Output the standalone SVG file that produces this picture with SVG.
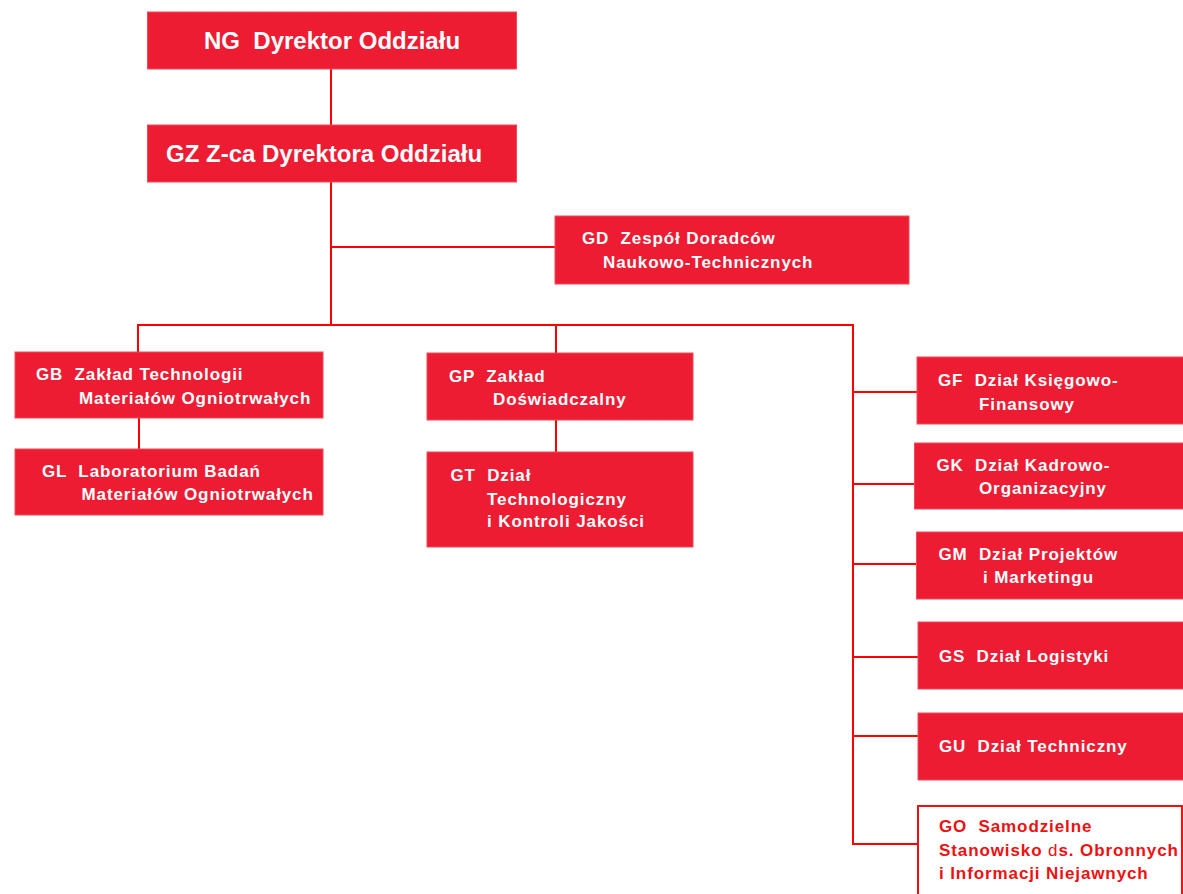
<svg xmlns="http://www.w3.org/2000/svg" width="1183" height="894" viewBox="0 0 1183 894">
<style>
.box{fill:#ED1C33;stroke:#F04A5A;stroke-width:1}
.obox{fill:#FFFFFF;stroke:#EE1111;stroke-width:2}
.t{font-family:"Liberation Sans",Arial,sans-serif;font-weight:bold;font-size:17px;letter-spacing:0.9px;fill:#FFFFFF;white-space:pre}
.big{font-size:24px;letter-spacing:0}
.r{fill:#EE1111}
.conn line{stroke:#FF0000;stroke-width:2}
</style>
<rect width="1183" height="894" fill="#FFFFFF"/>
<g class="conn">
<line x1="331" y1="69" x2="331" y2="125"/>
<line x1="331" y1="182" x2="331" y2="326"/>
<line x1="331" y1="247" x2="555" y2="247"/>
<line x1="137" y1="325" x2="854" y2="325"/>
<line x1="138" y1="325" x2="138" y2="352"/>
<line x1="556" y1="325" x2="556" y2="353"/>
<line x1="853" y1="325" x2="853" y2="845"/>
<line x1="139" y1="418" x2="139" y2="449"/>
<line x1="556" y1="420" x2="556" y2="452"/>
<line x1="853" y1="392" x2="917" y2="392"/>
<line x1="853" y1="484" x2="915" y2="484"/>
<line x1="853" y1="564" x2="917" y2="564"/>
<line x1="853" y1="657" x2="918" y2="657"/>
<line x1="853" y1="736" x2="918" y2="736"/>
<line x1="853" y1="844" x2="918" y2="844"/>
</g>
<g id="NG"><rect class="box" x="147.5" y="12" width="369" height="57"/><text class="t big" x="204" y="48.5">NG  Dyrektor Oddziału</text></g>
<g id="GZ"><rect class="box" x="147.5" y="125" width="369" height="57"/><text class="t big" x="166" y="162">GZ Z-ca Dyrektora Oddziału</text></g>
<g id="GD"><rect class="box" x="555" y="216" width="354" height="68"/><text class="t" x="582" y="243.5">GD  Zespół Doradców</text><text class="t" x="603" y="267.5">Naukowo-Technicznych</text></g>
<g id="GB"><rect class="box" x="15" y="352" width="308" height="66"/><text class="t" x="36" y="379.5">GB  Zakład Technologii</text><text class="t" x="79" y="403.5">Materiałów Ogniotrwałych</text></g>
<g id="GL"><rect class="box" x="15" y="449" width="308" height="66"/><text class="t" x="42" y="476.5">GL  Laboratorium Badań</text><text class="t" x="81.5" y="500">Materiałów Ogniotrwałych</text></g>
<g id="GP"><rect class="box" x="427" y="353" width="266" height="67"/><text class="t" x="449" y="381.5">GP  Zakład</text><text class="t" x="493" y="405">Doświadczalny</text></g>
<g id="GT"><rect class="box" x="427" y="452" width="266" height="95"/><text class="t" x="450.5" y="481">GT  Dział</text><text class="t" x="487" y="504.5">Technologiczny</text><text class="t" x="487" y="527">i Kontroli Jakości</text></g>
<g id="GF"><rect class="box" x="917" y="357" width="270" height="67"/><text class="t" x="938" y="386">GF  Dział Księgowo-</text><text class="t" x="979" y="410">Finansowy</text></g>
<g id="GK"><rect class="box" x="914.5" y="443" width="272" height="66"/><text class="t" x="936.5" y="470.5">GK  Dział Kadrowo-</text><text class="t" x="979" y="494">Organizacyjny</text></g>
<g id="GM"><rect class="box" x="916.5" y="532" width="270" height="67"/><text class="t" x="938.5" y="560">GM  Dział Projektów</text><text class="t" x="983" y="582.5">i Marketingu</text></g>
<g id="GS"><rect class="box" x="918" y="622" width="270" height="67"/><text class="t" x="939" y="661.5">GS  Dział Logistyki</text></g>
<g id="GU"><rect class="box" x="918" y="713" width="270" height="67"/><text class="t" x="939" y="752">GU  Dział Techniczny</text></g>
<g id="GO"><rect class="obox" x="918" y="806" width="264" height="100"/><text class="t r" x="939" y="832">GO  Samodzielne</text><text class="t r" x="939" y="856">Stanowisko <tspan font-weight="normal">d</tspan>s. Obronnych</text><text class="t r" x="939" y="879">i Informacji Niejawnych</text></g>
</svg>
